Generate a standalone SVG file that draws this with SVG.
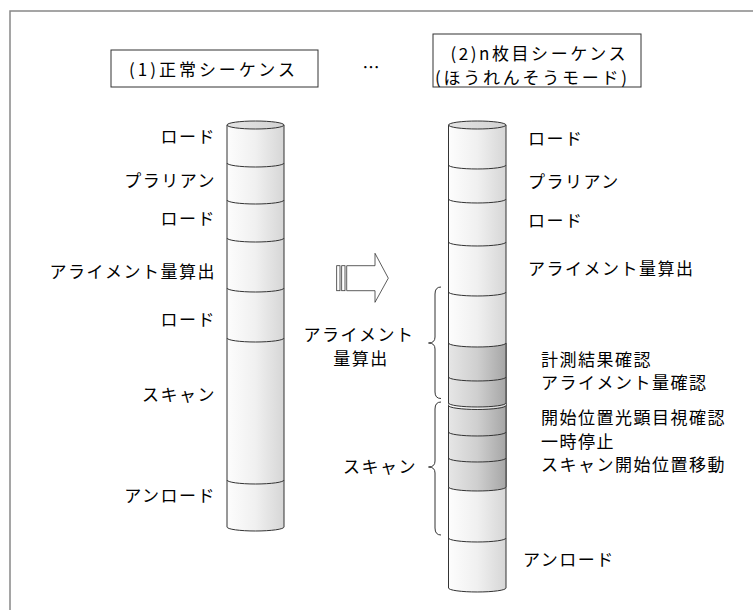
<svg xmlns="http://www.w3.org/2000/svg" width="753" height="610" viewBox="0 0 753 610">
<style>
text{font-family:"Noto Sans CJK JP","Noto Sans",sans-serif;font-size:17px;fill:#000;letter-spacing:1.5px}
.e{text-anchor:end}
.m{text-anchor:middle}
.t{letter-spacing:0}
.cyl{stroke:#333;stroke-width:1}
.div{fill:none;stroke:#333;stroke-width:1}
.box{fill:#fff;stroke:#333;stroke-width:1}
.br{fill:none;stroke:#333;stroke-width:1}
</style>
<defs>
<linearGradient id="lg" x1="0" y1="0" x2="1" y2="0">
<stop offset="0" stop-color="#fdfdfd"/><stop offset="0.5" stop-color="#f0f0f0"/><stop offset="1" stop-color="#d6d6d6"/>
</linearGradient>
<linearGradient id="dg" x1="0" y1="0" x2="1" y2="0">
<stop offset="0" stop-color="#e6e6e6"/><stop offset="0.5" stop-color="#cfcfcf"/><stop offset="1" stop-color="#a6a6a6"/>
</linearGradient>
<linearGradient id="tg" x1="0" y1="0" x2="1" y2="0">
<stop offset="0" stop-color="#e4e4e4"/><stop offset="1" stop-color="#d2d2d2"/>
</linearGradient>
</defs>
<rect width="753" height="610" fill="#fff"/>
<path d="M10,610 V11 H753" fill="none" stroke="#888" stroke-width="1.5"/>

<g id="title1">
<rect class="box" x="111" y="50" width="207" height="37"/>
<text class="m t" x="212" y="76" textLength="166" lengthAdjust="spacing">(1)正常シーケンス</text>
</g>
<text class="m t" x="371" y="74">…</text>
<g id="title2">
<rect class="box" x="433" y="34" width="208" height="53"/>
<text class="m t" x="538" y="60" textLength="175" lengthAdjust="spacing">(2)n枚目シーケンス</text>
<text class="m t" x="531" y="84" textLength="192" lengthAdjust="spacing">(ほうれんそうモード)</text>
</g>

<g id="cylinder1">
<path class="cyl" fill="url(#lg)" d="M227,125 V527 A28.5,4 0 0 0 284,527 V125 Z"/>
<path class="div" d="M227,163 A28.5,4 0 0 0 284,163 M227,200 A28.5,4 0 0 0 284,200 M227,238 A28.5,4 0 0 0 284,238 M227,288 A28.5,4 0 0 0 284,288 M227,338 A28.5,4 0 0 0 284,338 M227,480 A28.5,4 0 0 0 284,480"/>
<ellipse class="cyl" fill="url(#tg)" cx="255.5" cy="125" rx="28.5" ry="4"/>
</g>
<g id="labels1">
<text class="e" x="216" y="143">ロード</text>
<text class="e" x="216" y="187">プラリアン</text>
<text class="e" x="216" y="225">ロード</text>
<text class="e" x="216" y="278">アライメント量算出</text>
<text class="e" x="216" y="326">ロード</text>
<text class="e" x="216" y="401">スキャン</text>
<text class="e" x="216" y="502">アンロード</text>
</g>

<g id="arrow">
<rect x="336.7" y="265.7" width="3.3" height="25" fill="#fff" stroke="#333" stroke-width="0.8"/>
<rect x="341.7" y="265.7" width="3.3" height="25" fill="#fff" stroke="#333" stroke-width="0.8"/>
<path d="M346.7,265.7 H375 V253.3 L388.3,278.2 L375,302.3 V290.7 H346.7 Z" fill="#fff" stroke="#333" stroke-width="0.8"/>
</g>

<g id="cylinder2">
<path class="cyl" fill="url(#lg)" d="M448.5,125 V588 A28.75,4 0 0 0 506,588 V125 Z"/>
<path fill="url(#dg)" d="M448.5,343 A28.75,4 0 0 0 506,343 V487 A28.75,4 0 0 1 448.5,487 Z"/>
<path class="cyl" fill="none" d="M448.5,343 V487 M506,343 V487"/>
<path fill="url(#lg)" d="M448.5,403 A28.75,4 0 0 0 506,403 V405 A28.75,4 0 0 1 448.5,405 Z"/>
<path class="div" d="M448.5,165 A28.75,4 0 0 0 506,165 M448.5,199 A28.75,4 0 0 0 506,199 M448.5,242 A28.75,4 0 0 0 506,242 M448.5,292 A28.75,4 0 0 0 506,292 M448.5,343 A28.75,4 0 0 0 506,343 M448.5,377 A28.75,4 0 0 0 506,377 M448.5,403 A28.75,4 0 0 0 506,403 M448.5,405.5 A28.75,4 0 0 0 506,405.5 M448.5,432 A28.75,4 0 0 0 506,432 M448.5,458 A28.75,4 0 0 0 506,458 M448.5,487 A28.75,4 0 0 0 506,487 M448.5,538 A28.75,4 0 0 0 506,538"/>
<ellipse class="cyl" fill="url(#tg)" cx="477.25" cy="125" rx="28.75" ry="4"/>
</g>
<g id="labels2">
<text x="528" y="145">ロード</text>
<text x="528" y="188">プラリアン</text>
<text x="528" y="227">ロード</text>
<text x="528" y="275">アライメント量算出</text>
<text x="541" y="366">計測結果確認</text>
<text x="541" y="389">アライメント量確認</text>
<text x="541" y="424">開始位置光顕目視確認</text>
<text x="541" y="448">一時停止</text>
<text x="541" y="471">スキャン開始位置移動</text>
<text x="523" y="566">アンロード</text>
</g>

<g id="braces">
<path class="br" d="M441,287 Q435,287 435,294 V337 Q435,343 428.5,343 Q435,343 435,349 V392 Q435,398.5 441,398.5"/>
<path class="br" d="M441,402 Q435,402 435,409 V461 Q435,467 428.5,467 Q435,467 435,473 V528 Q435,535 441,535"/>
</g>
<g id="braceLabels">
<text class="m" x="359" y="341">アライメント</text>
<text class="m" x="361" y="365">量算出</text>
<text class="e" x="417" y="473">スキャン</text>
</g>
</svg>
